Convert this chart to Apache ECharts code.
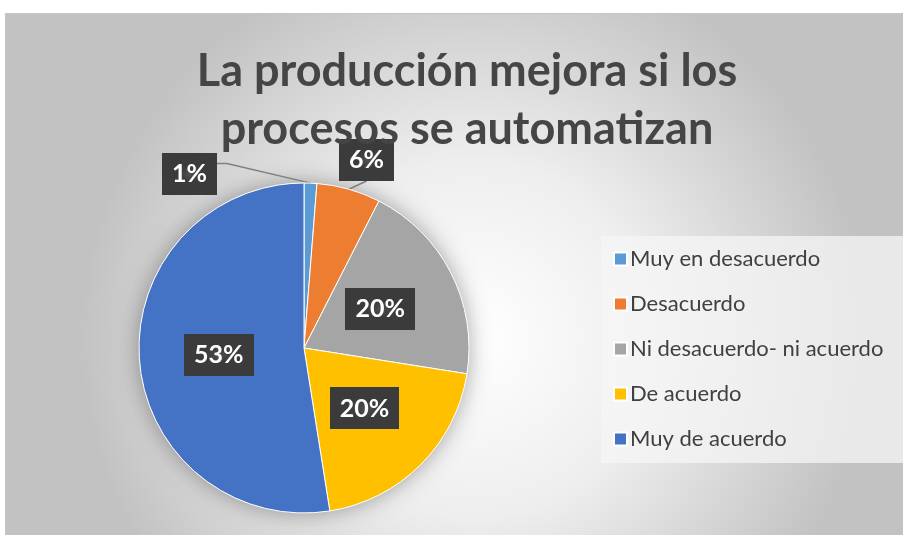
<!DOCTYPE html>
<html>
<head>
<meta charset="utf-8">
<script src="https://cdn.jsdelivr.net/npm/echarts@6/dist/echarts.min.js"></script>
<style>
html,body{margin:0;padding:0;background:#fff;}
#chart{width:903px;height:535px;}
</style>
</head>
<body>
<div id="chart"></div>
<script>
// Data
var categories = ['Muy en desacuerdo', 'Desacuerdo', 'Ni desacuerdo- ni acuerdo', 'De acuerdo', 'Muy de acuerdo'];
var values = [1, 5, 16, 16, 42];
var colors = ['#5B9BD5', '#ED7D31', '#A5A5A5', '#FFC000', '#4472C4'];
var titleLines = ['La producción mejora si los', 'procesos se automatizan'];

var total = values.reduce(function (a, b) { return a + b; }, 0);

// dotted dark pattern for label boxes
var pat = document.createElement('canvas');
pat.width = 5; pat.height = 5;
var pc = pat.getContext('2d');
pc.fillStyle = '#3b3b3b';
pc.fillRect(0, 0, 5, 5);
pc.fillStyle = '#515151';
pc.fillRect(2, 2, 1, 1);

var chart = echarts.init(document.getElementById('chart'), null, {renderer: 'canvas'});

var labelStyle = {
  show: true,
  position: 'inside',
  formatter: function (p) { return Math.round(p.value / total * 100) + '%'; },
  color: '#ffffff',
  fontFamily: 'Lato',
  fontWeight: 'bold',
  fontSize: 25,
  lineHeight: 26,
  padding: [8, 10],
  backgroundColor: {image: pat, repeat: 'repeat'},
  shadowColor: 'rgba(0,0,0,0.45)',
  shadowBlur: 6,
  shadowOffsetX: 2,
  shadowOffsetY: 3
};

var pieData = categories.map(function (c, i) {
  var d = {name: c, value: values[i], itemStyle: {color: colors[i]}};
  if (i === 0) {
    d.label = {position: 'outside'};
    d.labelLine = {show: true};
  }
  if (i === 1) {
    d.label = {position: 'outside'};
    d.labelLine = {show: true, length: 4, length2: 0};
  }
  return d;
});

// top-left corner of the outside label boxes
var outsidePos = {0: [162, 153], 1: [339, 139]};

var option = {
  animation: false,
  backgroundColor: '#ffffff',
  graphic: [{
    type: 'rect',
    z: -10,
    silent: true,
    shape: {x: 5.5, y: 13.5, width: 900, height: 524},
    style: {
      fill: new echarts.graphic.RadialGradient(0.52, 0.62, 0.75, [
        {offset: 0, color: '#ffffff'},
        {offset: 0.45, color: '#eeeeee'},
        {offset: 1, color: '#c2c2c2'}
      ]),
      stroke: '#c4c4c4',
      lineWidth: 1
    }
  }],
  title: {
    text: titleLines.join('\n'),
    left: 462,
    textAlign: 'center',
    top: 37,
    textStyle: {
      fontFamily: 'Lato',
      fontWeight: 'bold',
      fontSize: 45,
      lineHeight: 58,
      color: '#454545'
    }
  },
  legend: {
    orient: 'vertical',
    left: 601,
    top: 236,
    data: categories,
    icon: 'rect',
    itemWidth: 13,
    itemHeight: 13,
    itemGap: 23,
    padding: [12, 25, 13, 12],
    backgroundColor: 'rgba(245,245,245,0.75)',
    selectedMode: false,
    textStyle: {
      fontFamily: 'Lato',
      fontSize: 22,
      lineHeight: 22,
      color: '#404040',
      padding: [0, 0, 0, -2]
    }
  },
  series: [{
    type: 'pie',
    silent: true,
    center: [304, 348],
    radius: 165,
    z: 1,
    label: {show: false},
    labelLine: {show: false},
    itemStyle: {
      color: '#ffffff',
      shadowBlur: 22,
      shadowColor: 'rgba(0,0,0,0.35)'
    },
    data: [{name: '', value: total}]
  }, {
    type: 'pie',
    center: [304, 348],
    radius: 165,
    z: 2,
    startAngle: 90,
    clockwise: true,
    avoidLabelOverlap: false,
    data: pieData,
    itemStyle: {borderColor: '#ffffff', borderWidth: 1},
    label: labelStyle,
    labelLine: {
      show: false,
      length: 10,
      length2: 10,
      lineStyle: {color: '#7f7f7f', width: 1.5}
    },
    labelLayout: function (p) {
      var pos = outsidePos[p.dataIndex];
      if (pos) {
        return {x: pos[0], y: pos[1], align: 'left', verticalAlign: 'top'};
      }
      return {};
    }
  }]
};
chart.setOption(option);
</script>
</body>
</html>
